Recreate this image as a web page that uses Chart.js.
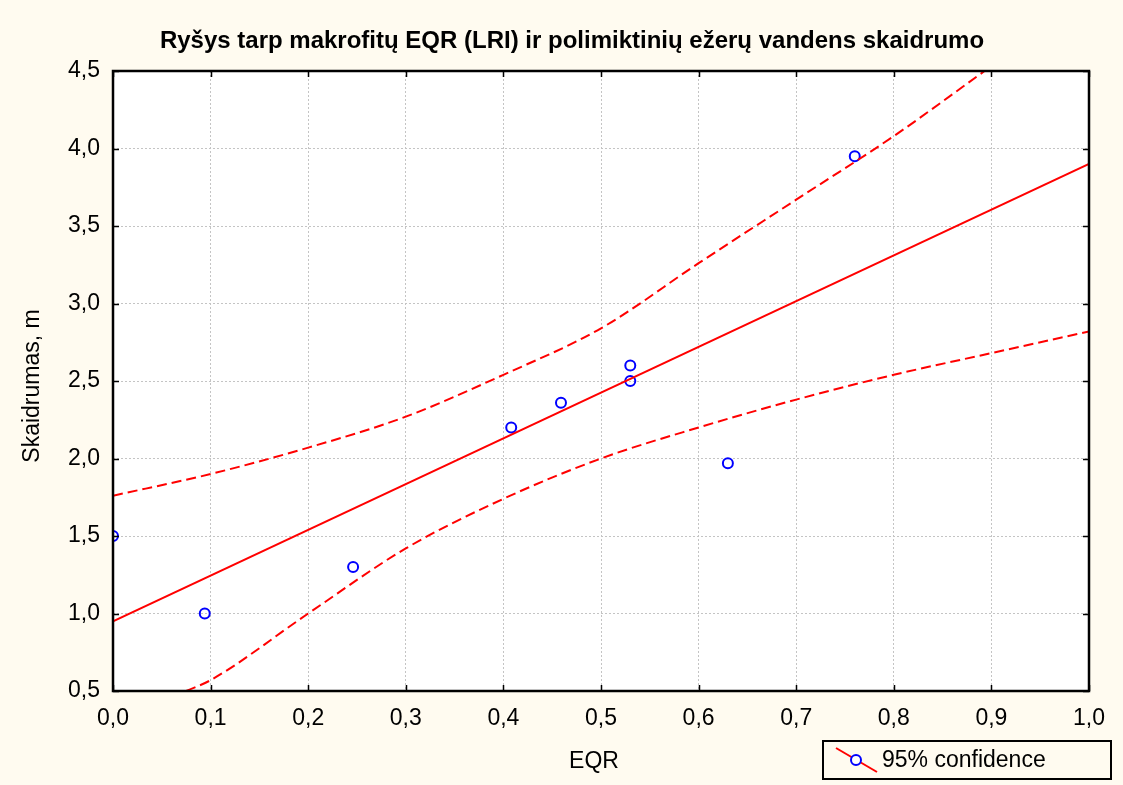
<!DOCTYPE html>
<html>
<head>
<meta charset="utf-8">
<script src="https://cdn.jsdelivr.net/npm/chart.js@4.4.1/dist/chart.umd.min.js"></script>
<style>
  html, body { margin: 0; padding: 0; background: #fffbf0; }
  #wrap { width: 1123px; height: 785px; }
</style>
</head>
<body>
<div id="wrap"><canvas id="eqrChart" width="1123" height="785"></canvas></div>
<script>
  // Observed lakes: EQR (LRI) vs water transparency
  const eqrValues = [0.0, 0.094, 0.246, 0.408, 0.459, 0.53, 0.53, 0.63, 0.76];
  const depthValues = [1.5, 1.0, 1.3, 2.2, 2.36, 2.6, 2.5, 1.97, 3.95];

  // Regression line
  const fitX = [0, 1];
  const fitY = [0.95, 3.9];

  // 95% confidence band
  const upperX = [0, 0.1, 0.2, 0.3, 0.4, 0.5, 0.6, 0.7, 0.8, 0.893];
  const upperY = [1.76, 1.90, 2.07, 2.27, 2.54, 2.84, 3.26, 3.67, 4.08, 4.5];
  const lowerX = [0.075, 0.1, 0.2, 0.3, 0.4, 0.5, 0.6, 0.7, 0.8, 0.9, 1.0];
  const lowerY = [0.5, 0.57, 1.0, 1.42, 1.74, 2.0, 2.2, 2.38, 2.54, 2.68, 2.82];

  // Axis ticks
  const xTicks = [0, 0.1, 0.2, 0.3, 0.4, 0.5, 0.6, 0.7, 0.8, 0.9, 1.0];
  const xTickLabels = ['0,0', '0,1', '0,2', '0,3', '0,4', '0,5', '0,6', '0,7', '0,8', '0,9', '1,0'];
  const yTicks = [0.5, 1.0, 1.5, 2.0, 2.5, 3.0, 3.5, 4.0, 4.5];
  const yTickLabels = ['0,5', '1,0', '1,5', '2,0', '2,5', '3,0', '3,5', '4,0', '4,5'];

  const titleText = 'Ryšys tarp makrofitų EQR (LRI) ir polimiktinių ežerų vandens skaidrumo';
  const xTitle = 'EQR';
  const yTitle = 'Skaidrumas, m';
  const legendText = '95% confidence';

  const FONT = '"Liberation Sans", Arial, sans-serif';
  const RED = '#ff0000';
  const BLUE = '#0000ff';

  const toXY = (xs, ys) => xs.map((x, i) => ({ x: x, y: ys[i] }));

  // Background, frame, inner ticks, titles and legend
  const decorPlugin = {
    id: 'decor',
    beforeDraw(chart) {
      const { ctx, chartArea: a } = chart;
      ctx.save();
      ctx.fillStyle = '#fffbf0';
      ctx.fillRect(0, 0, chart.width, chart.height);
      ctx.fillStyle = '#ffffff';
      ctx.fillRect(a.left, a.top, a.right - a.left, a.bottom - a.top);
      ctx.restore();
    },
    afterDatasetsDraw(chart) {
      const { ctx, chartArea: a, scales } = chart;
      ctx.save();

      // frame
      ctx.strokeStyle = '#000';
      ctx.lineWidth = 2.5;
      ctx.strokeRect(a.left, a.top, a.right - a.left, a.bottom - a.top);

      // inward tick marks on all four sides
      ctx.lineWidth = 1.5;
      ctx.beginPath();
      xTicks.forEach(v => {
        const px = Math.round(scales.x.getPixelForValue(v)) + 0.5;
        ctx.moveTo(px, a.top); ctx.lineTo(px, a.top + 6);
        ctx.moveTo(px, a.bottom); ctx.lineTo(px, a.bottom - 6);
      });
      yTicks.forEach(v => {
        const py = Math.round(scales.y.getPixelForValue(v)) + 0.5;
        ctx.moveTo(a.left, py); ctx.lineTo(a.left + 6, py);
        ctx.moveTo(a.right, py); ctx.lineTo(a.right - 6, py);
      });
      ctx.stroke();

      // title
      ctx.fillStyle = '#000';
      ctx.font = 'bold 24px ' + FONT;
      ctx.textAlign = 'center';
      ctx.textBaseline = 'middle';
      ctx.fillText(titleText, 572, 41);

      // axis titles
      ctx.font = '23px ' + FONT;
      ctx.fillText(xTitle, 594, 762);
      ctx.save();
      ctx.translate(33, 386);
      ctx.rotate(-Math.PI / 2);
      ctx.fillText(yTitle, 0, 0);
      ctx.restore();

      // legend box
      ctx.lineWidth = 2;
      ctx.strokeStyle = '#000';
      ctx.strokeRect(823, 741, 288, 38);
      ctx.strokeStyle = RED;
      ctx.lineWidth = 2;
      ctx.beginPath();
      ctx.moveTo(836, 748);
      ctx.lineTo(877, 772);
      ctx.stroke();
      ctx.fillStyle = '#fff';
      ctx.strokeStyle = BLUE;
      ctx.beginPath();
      ctx.arc(856, 760, 5, 0, Math.PI * 2);
      ctx.fill();
      ctx.stroke();
      ctx.fillStyle = '#000';
      ctx.textAlign = 'left';
      ctx.fillText(legendText, 882, 761);

      ctx.restore();
    }
  };

  const ctx = document.getElementById('eqrChart').getContext('2d');
  new Chart(ctx, {
    type: 'scatter',
    data: {
      datasets: [
        {
          label: 'Upper 95%',
          data: toXY(upperX, upperY),
          showLine: true,
          borderColor: RED,
          borderWidth: 2,
          borderDash: [10, 5],
          cubicInterpolationMode: 'monotone',
          pointRadius: 0
        },
        {
          label: 'Lower 95%',
          data: toXY(lowerX, lowerY),
          showLine: true,
          borderColor: RED,
          borderWidth: 2,
          borderDash: [10, 5],
          cubicInterpolationMode: 'monotone',
          pointRadius: 0
        },
        {
          label: 'Fit',
          data: toXY(fitX, fitY),
          showLine: true,
          borderColor: RED,
          borderWidth: 2,
          pointRadius: 0
        },
        {
          label: '95% confidence',
          data: toXY(eqrValues, depthValues),
          showLine: false,
          pointStyle: 'circle',
          pointRadius: 5,
          pointBorderWidth: 2,
          pointBorderColor: BLUE,
          pointBackgroundColor: 'rgba(255,255,255,0)'
        }
      ]
    },
    options: {
      responsive: false,
      animation: false,
      devicePixelRatio: 1,
      layout: { padding: { left: 0, top: 71, right: 34, bottom: 0 } },
      plugins: {
        legend: { display: false },
        tooltip: { enabled: false },
        title: { display: false }
      },
      scales: {
        x: {
          type: 'linear',
          min: 0,
          max: 1,
          afterBuildTicks: s => { s.ticks = xTicks.map(v => ({ value: v })); },
          afterFit: s => { s.height = 94; },
          ticks: {
            color: '#000',
            font: { family: FONT, size: 23 },
            padding: 14,
            maxRotation: 0,
            autoSkip: false,
            callback: (value, index) => xTickLabels[index]
          },
          grid: { color: '#c4c4c4', lineWidth: 1, drawTicks: false },
          border: { display: false, dash: [2, 2] }
        },
        y: {
          type: 'linear',
          min: 0.5,
          max: 4.5,
          afterBuildTicks: s => { s.ticks = yTicks.map(v => ({ value: v })); },
          afterFit: s => { s.width = 113; },
          ticks: {
            color: '#000',
            font: { family: FONT, size: 23 },
            padding: 13,
            autoSkip: false,
            callback: (value, index) => yTickLabels[index]
          },
          grid: { color: '#c4c4c4', lineWidth: 1, drawTicks: false },
          border: { display: false, dash: [2, 2] }
        }
      }
    },
    plugins: [decorPlugin]
  });
</script>
</body>
</html>
